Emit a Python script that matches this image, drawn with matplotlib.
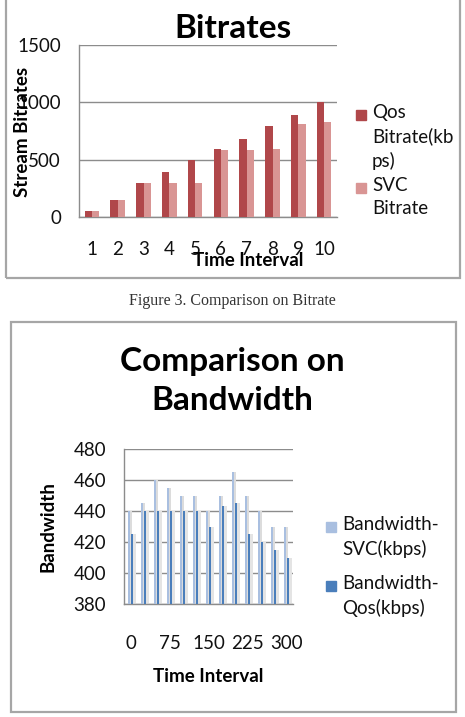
import numpy as np
import matplotlib
matplotlib.use("Agg")
import matplotlib.pyplot as plt
from matplotlib.patches import Rectangle

plt.rcParams['font.family'] = ['Lato', 'DejaVu Sans']

# --- data: bitrates chart ---
intervals = ['1', '2', '3', '4', '5', '6', '7', '8', '9', '10']
qos_bitrate = [50, 150, 300, 390, 500, 595, 680, 795, 890, 1000]
svc_bitrate = [50, 150, 300, 300, 300, 580, 585, 595, 810, 825]

# --- data: bandwidth chart ---
time_steps = [0, 25, 50, 75, 100, 125, 150, 175, 200, 225, 250, 275, 300]
svc_bandwidth = [440, 445, 460, 455, 450, 450, 440, 450, 465, 450, 440, 430, 430]
qos_bandwidth = [425, 440, 440, 440, 440, 440, 430, 443, 445, 425, 420, 415, 410]

W, H = 465, 717
FS = 13.5
fig = plt.figure(figsize=(W / 100, H / 100), dpi=100)


def fx(px):
    return px / W


def fy(py):
    return 1 - py / H


def box(x0, y0, x1, y1):
    fig.patches.append(Rectangle((fx(x0), fy(y1)), fx(x1) - fx(x0), fy(y0) - fy(y1),
                                 transform=fig.transFigure, fill=False,
                                 edgecolor='#a6a6a6', linewidth=1.6))


def legend_entry(x, y, color, text):
    fig.patches.append(Rectangle((fx(x), fy(y + 5)), fx(10), 10 / H,
                                 transform=fig.transFigure, color=color))
    fig.text(fx(x + 16), fy(y - 11), text, ha='left', va='top', fontsize=FS,
             linespacing=1.45, color='#111111')


def style_axes(ax):
    for s in ['top', 'right']:
        ax.spines[s].set_visible(False)
    for s in ['left', 'bottom']:
        ax.spines[s].set_color('#8c8c8c')
        ax.spines[s].set_linewidth(1.0)
    ax.tick_params(length=0, labelsize=FS, colors='#111111')
    ax.yaxis.grid(True, color='#8c8c8c', linewidth=1.0)
    ax.set_axisbelow(True)


# ---------------- top chart ----------------
box(6, -5, 460, 278)
ax1 = fig.add_axes([fx(79), fy(217), fx(337) - fx(79), (217 - 45) / H])
x = np.arange(len(intervals))
bw = 0.28
ax1.bar(x - bw / 2, qos_bitrate, bw, color='#b0474a', zorder=3)
ax1.bar(x + bw / 2, svc_bitrate, bw, color='#d99594', zorder=3)
ax1.set_xlim(-0.5, len(intervals) - 0.5)
ax1.set_ylim(0, 1500)
ax1.set_yticks([0, 500, 1000, 1500])
ax1.set_xticks(x)
ax1.set_xticklabels(intervals)
style_axes(ax1)
ax1.tick_params(axis='x', pad=17)
ax1.tick_params(axis='y', pad=13)

fig.text(fx(233), fy(29), 'Bitrates', ha='center', va='center',
         fontsize=24, fontweight='bold')
fig.text(fx(22), fy(132), 'Stream Bitrates', ha='center', va='center',
         rotation=90, fontsize=FS, fontweight='bold')
fig.text(fx(248), fy(260), 'Time Interval', ha='center', va='center',
         fontsize=FS, fontweight='bold')
legend_entry(356, 115, '#b0474a', 'Qos\nBitrate(kb\nps)')
legend_entry(356, 188, '#d99594', 'SVC\nBitrate')

fig.text(fx(232), fy(301), 'Figure 3. Comparison on Bitrate', ha='center',
         va='center', fontsize=11.5, color='#333333',
         family=['Liberation Serif', 'DejaVu Serif'])

# ---------------- bottom chart ----------------
box(11, 322, 456, 712)
ax2 = fig.add_axes([fx(124), fy(604), fx(293) - fx(124), (604 - 449) / H])
g = np.arange(len(time_steps))
w2 = 0.15
# soft shadow behind the thin bars
ax2.bar(g - 0.02, svc_bandwidth, 0.3, color='#dcdcdc', zorder=2)
ax2.bar(g + 0.28, qos_bandwidth, 0.3, color='#e4e4e4', zorder=2)
ax2.bar(g - 0.12, svc_bandwidth, w2, color='#a9bfe0', zorder=3)
ax2.bar(g + 0.12, qos_bandwidth, w2, color='#4a7ebb', zorder=3)
ax2.set_xlim(-0.5, len(time_steps) - 0.5)
ax2.set_ylim(380, 480)
ax2.set_yticks(np.arange(380, 481, 20))
ax2.set_xticks(g[::3])
ax2.set_xticklabels([str(t) for t in time_steps[::3]])
style_axes(ax2)
ax2.tick_params(axis='x', pad=22)
ax2.tick_params(axis='y', pad=13)

fig.text(fx(232), fy(381), 'Comparison on\nBandwidth', ha='center', va='center',
         fontsize=24, fontweight='bold', linespacing=1.45)
fig.text(fx(48), fy(527), 'Bandwidth', ha='center', va='center',
         rotation=90, fontsize=FS, fontweight='bold')
fig.text(fx(208), fy(676), 'Time Interval', ha='center', va='center',
         fontsize=FS, fontweight='bold')
legend_entry(326, 527, '#a9bfe0', 'Bandwidth-\nSVC(kbps)')
legend_entry(326, 586, '#4a7ebb', 'Bandwidth-\nQos(kbps)')

fig.savefig('out.png', dpi=100, facecolor='white')
